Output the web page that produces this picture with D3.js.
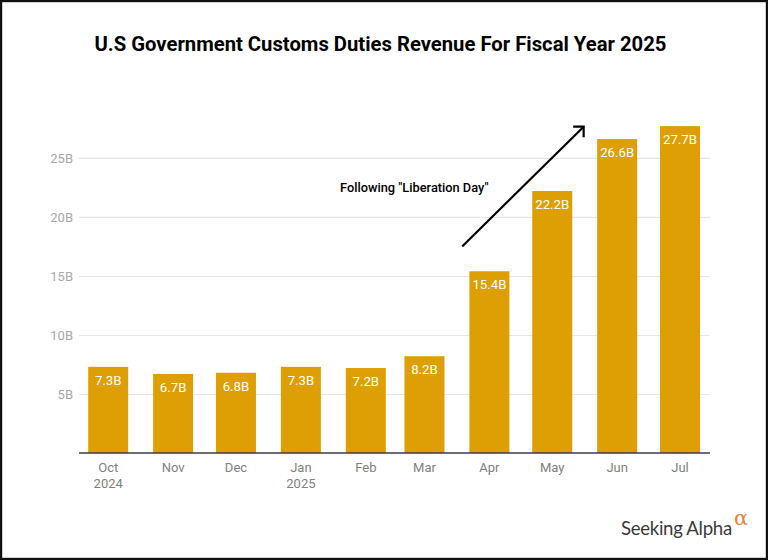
<!DOCTYPE html>
<html><head><meta charset="utf-8">
<script src="https://cdn.jsdelivr.net/npm/d3@7"></script>
<style>html,body{margin:0;padding:0;background:#fff}svg{display:block}text{font-family:Roboto,sans-serif}</style>
</head><body><svg id="c" width="768" height="560"></svg>
<script>
const monthStarts=["2024-10-01","2024-11-01","2024-12-01","2025-01-01","2025-02-01","2025-03-01","2025-04-01","2025-05-01","2025-06-01","2025-07-01"];
const months=["Oct","Nov","Dec","Jan","Feb","Mar","Apr","May","Jun","Jul"];
const years=["2024","","","2025","","","","","",""];
const revenue=[7.3,6.7,6.8,7.3,7.2,8.2,15.4,22.2,26.6,27.7];
const yTicks=[5,10,15,20,25];
const titleText="U.S Government Customs Duties Revenue For Fiscal Year 2025";
const noteText='Following "Liberation Day"';
const arrowDates=["2025-03-19","2025-05-16"];
const arrowValues=[17.5,27.65];

const svg=d3.select("#c");
const dates=monthStarts.map(d=>new Date(d+"T00:00:00Z"));
const x=d3.scaleUtc().domain(d3.extent(dates)).range([108.2,680]);
const y=d3.scaleLinear().domain([0,27.7]).range([453,126.1]);

svg.append("rect").attr("x",1).attr("y",1).attr("width",766).attr("height",558).attr("fill","#fff").attr("stroke","#111").attr("stroke-width",2.4);
svg.append("text").attr("x",380.5).attr("y",51).attr("text-anchor","middle").attr("font-size",20.25).attr("font-weight",700).attr("fill","#000").text(titleText);

const yAxis=d3.axisLeft(y).tickValues(yTicks).tickSize(0).tickPadding(6).tickFormat(d=>d+"B");
const gy=svg.append("g").attr("transform","translate(79,0)").call(yAxis);
gy.select(".domain").remove();
gy.selectAll("text").attr("font-size",13).attr("fill","#a8a8a8").style("font-family","Roboto,sans-serif");
gy.selectAll("line").attr("x2",631).attr("stroke","#e6e6e6").attr("stroke-width",1.2);

svg.selectAll("rect.bar").data(revenue).join("rect").attr("class","bar")
 .attr("x",(d,i)=>x(dates[i])-20).attr("width",40).attr("y",d=>y(d)).attr("height",d=>y(0)-y(d)).attr("fill","#dd9f03");
svg.selectAll("text.val").data(revenue).join("text").attr("class","val")
 .attr("x",(d,i)=>x(dates[i])).attr("y",d=>y(d)+18).attr("text-anchor","middle").attr("font-size",13.2).attr("fill","#fff").text(d=>d.toFixed(1)+"B");

svg.append("line").attr("x1",79).attr("x2",710).attr("y1",y(0)).attr("y2",y(0)).attr("stroke","#3c3c44").attr("stroke-width",1.6);

months.forEach((m,i)=>{
 const t=svg.append("text").attr("text-anchor","middle").attr("font-size",13).attr("fill","#7f7f7f");
 t.append("tspan").attr("x",x(dates[i])).attr("y",472).text(m);
 if(years[i]) t.append("tspan").attr("x",x(dates[i])).attr("y",488).text(years[i]);
});

svg.append("text").attr("x",340).attr("y",192).attr("font-size",12.8).attr("font-weight",500).attr("fill","#000").text(noteText);

const ax0=x(new Date(arrowDates[0]+"T00:00:00Z")),ax1=x(new Date(arrowDates[1]+"T00:00:00Z"));
const ay0=y(arrowValues[0]),ay1=y(arrowValues[1]);
svg.append("line").attr("x1",ax0).attr("y1",ay0).attr("x2",ax1).attr("y2",ay1).attr("stroke","#000").attr("stroke-width",2.2);
svg.append("path").attr("d",d3.line()([[ax1-10.5,ay1],[ax1,ay1],[ax1,ay1+10.5]])).attr("fill","none").attr("stroke","#000").attr("stroke-width",2.2);

// Seeking Alpha logo
svg.append("text").attr("x",621).attr("y",535).attr("font-size",18.6).attr("letter-spacing",-0.3).attr("fill","#3a3a3a").style("font-family","Lato,sans-serif").text("Seeking Alpha");
svg.append("text").attr("x",734).attr("y",525).attr("font-size",21).attr("fill","#e8833a").style("font-family","'DejaVu Serif',serif").text("α");
</script></body></html>
